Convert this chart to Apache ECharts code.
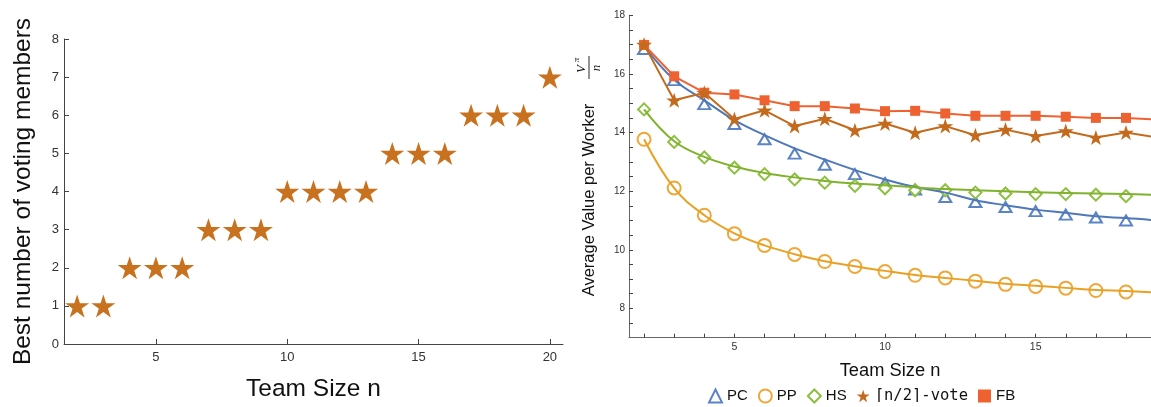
<!DOCTYPE html>
<html>
<head>
<meta charset="utf-8">
<script src="https://cdn.jsdelivr.net/npm/echarts@6/dist/echarts.min.js"></script>
<style>html,body{margin:0;padding:0;background:#fff}#c{width:1151px;height:407px}</style>
</head>
<body>
<div id="c"></div>
<script>
// ---------- data ----------
const leftN = [2,3,4,5,6,7,8,9,10,11,12,13,14,15,16,17,18,19,20];
const bestVoters = [1,1,2,2,2,3,3,3,4,4,4,4,5,5,5,6,6,6,7];
const leftXTicks = [5,10,15,20];

const rightN = [2,3,4,5,6,7,8,9,10,11,12,13,14,15,16,17,18];
const pcPoints = [16.85,15.79,14.97,14.29,13.77,13.28,12.9,12.58,12.28,12.05,11.8,11.63,11.46,11.32,11.2,11.1,11.0];
const ppPoints = [13.77,12.11,11.18,10.55,10.15,9.84,9.6,9.43,9.26,9.13,9.04,8.93,8.82,8.75,8.69,8.61,8.56];
const hsPoints = [14.79,13.68,13.15,12.8,12.58,12.4,12.29,12.18,12.1,12.03,12.03,11.95,11.92,11.9,11.9,11.88,11.83];

const curveN = [2,3,4,5,6,7,8,9,10,11,12,13,14,15,16,17,18,19];
const pcCurve = [16.95,15.8,15.1,14.42,13.91,13.46,13.08,12.72,12.4,12.14,11.95,11.69,11.52,11.37,11.26,11.14,11.08,11.0];
const ppCurve = [13.77,12.1,11.18,10.56,10.15,9.85,9.61,9.44,9.28,9.14,9.04,8.94,8.84,8.77,8.7,8.63,8.59,8.54];
const hsCurve = [14.79,13.7,13.17,12.84,12.62,12.47,12.35,12.26,12.2,12.13,12.07,12.03,12.0,11.96,11.94,11.92,11.9,11.87];

const voteN = [2,3,4,5,6,7,8,9,10,11,12,13,14,15,16,17,18,19];
const votePoints = [17.0,15.1,15.36,14.46,14.76,14.22,14.47,14.08,14.31,13.99,14.22,13.91,14.1,13.88,14.05,13.83,14.0,13.84];
const fbPoints = [16.99,15.92,15.36,15.3,15.1,14.9,14.9,14.82,14.73,14.74,14.65,14.57,14.57,14.57,14.54,14.5,14.5,14.44];

const rightXTicks = [5,10,15];
const rightXMinor = [2,3,4,5,6,7,8,9,10,11,12,13,14,15,16,17,18];
const rightYTicks = [8,10,12,14,16,18];
const rightYMinor = [7.5,8,8.5,9,9.5,10,10.5,11,11.5,12,12.5,13,13.5,14,14.5,15,15.5,16,16.5,17,17.5,18];

const seriesNames = ['PC','PP','HS','⌈n/2⌉-vote','FB'];

// ---------- helpers ----------
const STAR = 'path://M50,0L61.23,34.55L97.55,34.55L68.17,55.9L79.39,90.45L50,69.1L20.61,90.45L31.83,55.9L2.45,34.55L38.77,34.55Z';
const pair = (xs, ys) => xs.map((x, i) => [x, ys[i]]);
const FONT = 'Liberation Sans, Arial, sans-serif';

const chart = echarts.init(document.getElementById('c'), null, {renderer: 'canvas'});

const axisLineL = {show: true, lineStyle: {color: '#444', width: 1}};
const axisLineR = {show: true, lineStyle: {color: '#666', width: 1}};

const option = {
  animation: false,
  backgroundColor: '#fff',
  textStyle: {fontFamily: FONT},
  grid: [
    {left: 64, top: 39, width: 499, height: 308},
    {left: 629, top: 15.3, width: 530, height: 322.4}
  ],
  xAxis: [
    {type: 'value', gridIndex: 0, min: 1.5, max: 20.5, position: 'bottom',
     name: 'Team Size n', nameLocation: 'middle', nameGap: 33,
     nameTextStyle: {fontSize: 24.5, color: '#111', fontFamily: FONT},
     axisLine: axisLineL, splitLine: {show: false},
     axisTick: {show: true, inside: true, length: 5, customValues: leftXTicks, lineStyle: {color: '#444'}},
     axisLabel: {customValues: leftXTicks, fontSize: 13, color: '#333', margin: 7, fontFamily: FONT}},
    {type: 'value', gridIndex: 1, min: 1.5, max: 18.83, position: 'bottom',
     name: 'Team Size n', nameLocation: 'middle', nameGap: 24,
     nameTextStyle: {fontSize: 18.3, color: '#111', fontFamily: FONT},
     axisLine: axisLineR, splitLine: {show: false},
     axisTick: {show: true, inside: true, length: 4, customValues: rightXMinor, lineStyle: {color: '#444'}},
     axisLabel: {customValues: rightXTicks, fontSize: 10.5, color: '#333', margin: 4, fontFamily: FONT}}
  ],
  yAxis: [
    {type: 'value', gridIndex: 0, min: 0, max: 8, interval: 1, position: 'left',
     name: 'Best number of voting members', nameLocation: 'middle', nameGap: 28,
     nameTextStyle: {fontSize: 24.5, color: '#111', fontFamily: FONT},
     axisLine: axisLineL, splitLine: {show: false},
     axisTick: {show: true, inside: true, length: 5, lineStyle: {color: '#444'}},
     axisLabel: {fontSize: 13, color: '#333', margin: 5, fontFamily: FONT}},
    {type: 'value', gridIndex: 1, min: 7, max: 18, position: 'left',
     axisLine: axisLineR, splitLine: {show: false},
     axisTick: {show: true, inside: true, length: 4, customValues: rightYMinor, lineStyle: {color: '#444'}},
     axisLabel: {customValues: rightYTicks, fontSize: 10, color: '#333', margin: 4, fontFamily: FONT}}
  ],
  legend: {
    left: 703, top: 383, itemGap: 10, itemWidth: 13, itemHeight: 13,
    textStyle: {fontSize: 15, color: '#111', fontFamily: FONT},
    data: [
      {name: 'PC'}, {name: 'PP'}, {name: 'HS'},
      {name: '⌈n/2⌉-vote', icon: STAR, textStyle: {fontFamily: 'DejaVu Sans Mono', fontSize: 15.5}},
      {name: 'FB', icon: 'rect'}
    ]
  },
  graphic: [
    {type: 'text', x: 589, y: 200, rotation: Math.PI / 2,
     style: {text: 'Average Value per Worker', font: '16.5px Liberation Sans, Arial, sans-serif', fill: '#111', align: 'center', verticalAlign: 'middle'}},
    {type: 'text', x: 582, y: 69, rotation: Math.PI / 2,
     style: {text: 'V', font: 'italic 13px Liberation Serif, serif', fill: '#111', align: 'center', verticalAlign: 'middle'}},
    {type: 'text', x: 576.5, y: 60, rotation: Math.PI / 2,
     style: {text: 'π', font: 'italic 9px Liberation Serif, serif', fill: '#111', align: 'center', verticalAlign: 'middle'}},
    {type: 'line', shape: {x1: 589, y1: 56, x2: 589, y2: 79}, style: {stroke: '#111', lineWidth: 0.9}},
    {type: 'text', x: 597, y: 68, rotation: Math.PI / 2,
     style: {text: 'n', font: 'italic 13px Liberation Serif, serif', fill: '#111', align: 'center', verticalAlign: 'middle'}}
  ],
  series: [
    // left chart
    {name: 'best', type: 'scatter', xAxisIndex: 0, yAxisIndex: 0,
     symbol: STAR, symbolSize: [24, 23],
     itemStyle: {color: '#C8711E', opacity: 1},
     data: pair(leftN, bestVoters)},
    // right chart curves
    {name: 'PC curve', type: 'line', xAxisIndex: 1, yAxisIndex: 1, smooth: 0.4, showSymbol: false, clip: true,
     lineStyle: {color: '#4f78b8', width: 2}, itemStyle: {color: '#4f78b8'}, data: pair(curveN, pcCurve)},
    {name: 'PP curve', type: 'line', xAxisIndex: 1, yAxisIndex: 1, smooth: 0.4, showSymbol: false, clip: true,
     lineStyle: {color: '#e9a123', width: 2}, itemStyle: {color: '#e9a123'}, data: pair(curveN, ppCurve)},
    {name: 'HS curve', type: 'line', xAxisIndex: 1, yAxisIndex: 1, smooth: 0.4, showSymbol: false, clip: true,
     lineStyle: {color: '#80b22e', width: 2}, itemStyle: {color: '#80b22e'}, data: pair(curveN, hsCurve)},
    // right chart markers
    {name: 'PC', type: 'scatter', xAxisIndex: 1, yAxisIndex: 1, symbol: 'emptyTriangle', symbolSize: [12, 10],
     itemStyle: {color: '#5b84c6', borderWidth: 1, opacity: 1}, data: pair(rightN, pcPoints)},
    {name: 'PP', type: 'scatter', xAxisIndex: 1, yAxisIndex: 1, symbol: 'emptyCircle', symbolSize: 13,
     itemStyle: {color: '#f0a73a', borderWidth: 1, opacity: 1}, data: pair(rightN, ppPoints)},
    {name: 'HS', type: 'scatter', xAxisIndex: 1, yAxisIndex: 1, symbol: 'emptyDiamond', symbolSize: [12, 12],
     itemStyle: {color: '#8dbf40', borderWidth: 1, opacity: 1}, data: pair(rightN, hsPoints)},
    {name: 'FB', type: 'line', xAxisIndex: 1, yAxisIndex: 1, symbol: 'rect', symbolSize: 10, clip: true,
     lineStyle: {color: '#ee6232', width: 2}, itemStyle: {color: '#ee6232'}, data: pair(voteN, fbPoints)},
    {name: '⌈n/2⌉-vote', type: 'line', xAxisIndex: 1, yAxisIndex: 1, symbol: STAR, symbolSize: [16, 15], clip: true,
     lineStyle: {color: '#c46a1c', width: 2}, itemStyle: {color: '#c46a1c'}, data: pair(voteN, votePoints)}
  ]
};
chart.setOption(option);
</script>
</body>
</html>
